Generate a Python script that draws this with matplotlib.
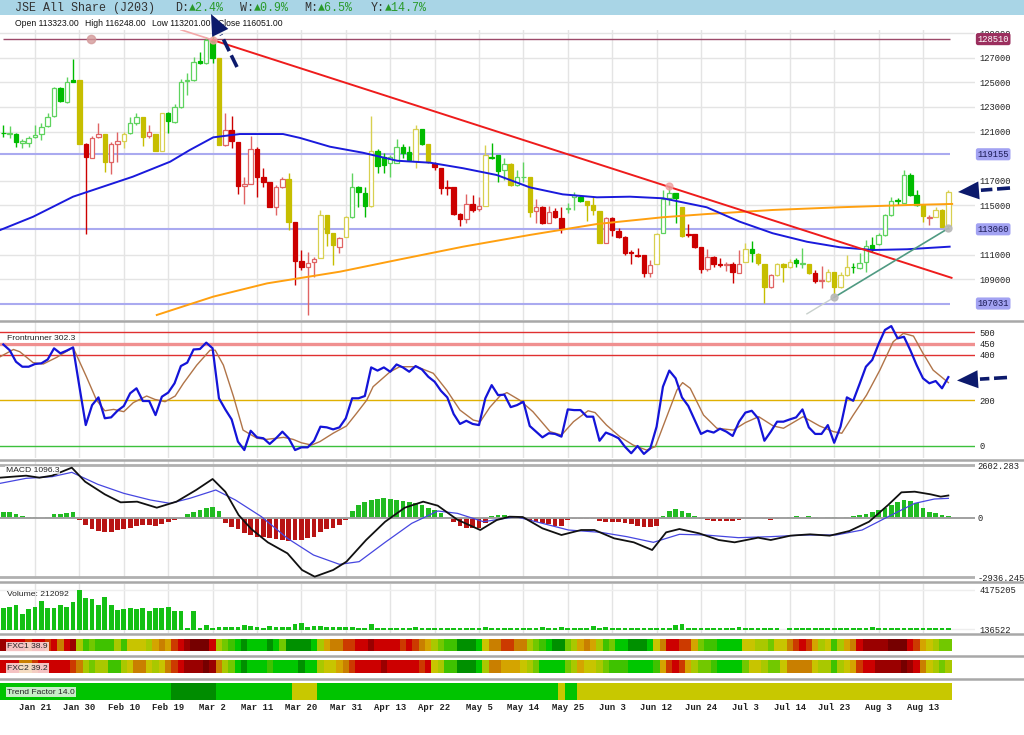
import matplotlib
matplotlib.use("Agg")
import matplotlib.pyplot as plt
from matplotlib.patches import Polygon, Rectangle
import numpy as np

W, H = 1024, 735
MONO = ['Liberation Mono', 'DejaVu Sans Mono']
SANS = ['Liberation Sans', 'DejaVu Sans']

# ---------------- data ----------------
tick_idx = [5, 12, 19, 26, 33, 40, 47, 54, 61, 68, 75, 82, 89, 96, 103, 110, 117, 124, 131, 138, 145]
tick_labels = ['Jan 21', 'Jan 30', 'Feb 10', 'Feb 19', 'Mar 2', 'Mar 11', 'Mar 20', 'Mar 31',
               'Apr 13', 'Apr 22', 'May 5', 'May 14', 'May 25', 'Jun 3', 'Jun 12', 'Jun 24',
               'Jul 3', 'Jul 14', 'Jul 23', 'Aug 3', 'Aug 13']

candle_open = [
    120900, 120800, 120800, 120100, 120100, 120530, 120775, 121480, 122290, 124510,
    123430, 125190, 125190, 119990, 118880, 120530, 120775, 118500, 119990, 120230,
    120860, 121720, 122160, 120640, 120800, 119390, 122480, 121800, 122970, 125110,
    125190, 126730, 126600, 128440, 126950, 119910, 121100, 120130, 116600, 116740,
    119560, 117340, 116880, 114900, 116520, 117150, 113630, 110480, 109970, 110430,
    110750, 114220, 112786, 111650, 112460, 114030, 116520, 116040, 114950, 119450,
    118960, 118470, 118470, 119720, 119310, 118640, 121180, 119990, 118360, 118010,
    116470, 116470, 114300, 113870, 115120, 114680, 114950, 118960, 119100, 117880,
    118360, 116660, 117280, 117280, 114570, 114840, 113600, 114550, 113950, 114700,
    115710, 115710, 115390, 115040, 114550, 111970, 113950, 112950, 112410, 111240,
    110970, 110972, 109540, 110240, 112730, 115575, 115980, 114845, 112680, 112680,
    111595, 109808, 110836, 110241, 110160, 110241, 109537, 110430, 111432, 111054,
    110241, 108345, 109347, 110241, 109970, 110566, 110241, 110241, 109537, 108887,
    108887, 109618, 108345, 109347, 110024, 109889, 110430, 111784, 111865, 112597,
    114222, 115470, 115223, 117471, 115846, 115034, 114000, 114086, 114628, 113323]
candle_high = [
    121530, 121480, 120900, 120420, 120640, 121530, 121670, 122480, 124650, 124650,
    125460, 126870, 125190, 120040, 120640, 121720, 120775, 120180, 120990, 120990,
    122160, 122530, 122160, 121530, 120800, 122480, 122620, 123240, 125240, 125730,
    127080, 127490, 128710, 128760, 126950, 122480, 122260, 120130, 117340, 120640,
    119720, 118010, 116880, 116660, 117340, 117660, 113680, 111380, 111240, 110840,
    114630, 114220, 112786, 112460, 114140, 117610, 116600, 116470, 122260, 119560,
    119230, 119100, 120370, 119990, 119830, 121530, 121230, 119990, 118550, 118010,
    117060, 116470, 114360, 115930, 115850, 115710, 119910, 120040, 119100, 118830,
    118470, 117880, 118550, 117280, 115490, 114950, 114950, 114760, 114900, 115200,
    116120, 115850, 115390, 115710, 114550, 114090, 114030, 113140, 112520, 111380,
    111510, 110972, 110570, 112790, 116250, 116578, 115980, 114845, 113490, 112680,
    111595, 111432, 110890, 110701, 110430, 110430, 111378, 111920, 112136, 111100,
    110241, 109428, 110295, 110300, 110620, 110700, 111513, 110241, 109754, 110078,
    109808, 109618, 109618, 110972, 110350, 111108, 112190, 112461, 112732, 114303,
    115711, 115575, 117877, 117661, 116252, 115034, 114222, 114845, 114682, 116248]
candle_low = [
    120530, 120450, 119720, 119640, 119770, 120450, 120310, 121340, 122210, 123430,
    123350, 125000, 119990, 112680, 118830, 120500, 117740, 117550, 118550, 119640,
    120800, 121530, 119830, 120450, 119390, 119390, 120860, 121720, 122890, 123970,
    125130, 126490, 126490, 126540, 119910, 119830, 119640, 115930, 115120, 116740,
    115660, 116530, 114900, 114220, 116390, 113000, 108530, 109750, 106100, 109210,
    110700, 111700, 110160, 111110, 112460, 113950, 114900, 114030, 114900, 117660,
    117610, 117280, 118470, 118830, 118690, 118010, 119910, 118420, 117880, 115930,
    115850, 114220, 113330, 113600, 114490, 114570, 114950, 118740, 116930, 117060,
    116580, 116600, 116930, 114090, 113600, 113490, 113550, 113950, 112730, 114400,
    114630, 115300, 113760, 114220, 111970, 111920, 112520, 112330, 110970, 110240,
    110840, 109210, 109160, 110240, 112730, 115034, 113600, 112407, 112407, 111513,
    109483, 109700, 110024, 109970, 109700, 108670, 109500, 110400, 110430, 110160,
    107100, 108264, 109266, 108805, 109889, 110024, 109889, 109429, 108724, 108264,
    108800, 107533, 108300, 109266, 109483, 109850, 109618, 111243, 111800, 112550,
    114140, 115034, 115180, 115765, 114953, 113680, 113409, 114050, 113220, 113201]
candle_close = [
    120850, 120880, 120180, 120230, 120500, 120720, 121400, 122210, 124510, 123480,
    125000, 125050, 119990, 118960, 120450, 120775, 118530, 119990, 120200, 120800,
    121720, 122160, 120530, 120940, 119390, 122480, 121880, 122970, 125000, 125190,
    126680, 126540, 128440, 127000, 119910, 121130, 120200, 116600, 116740, 119560,
    117340, 116880, 114900, 116470, 117150, 113680, 110480, 109970, 110290, 110670,
    114220, 112790, 111785, 112330, 114030, 116520, 116120, 114950, 119450, 118200,
    118280, 118960, 119720, 119290, 118690, 121180, 119990, 118550, 118090, 116390,
    116390, 114300, 113870, 115120, 114630, 114950, 119100, 118830, 117820, 118360,
    116660, 117280, 117340, 114490, 114840, 113600, 114490, 114030, 113140, 114800,
    115850, 115390, 115040, 114630, 111970, 113950, 113000, 112410, 111160, 111110,
    110890, 109540, 110160, 112680, 115490, 115980, 115575, 112515, 112570, 111595,
    109808, 110782, 110241, 110160, 110241, 109618, 110241, 111432, 111162, 110295,
    108345, 109347, 110241, 109970, 110430, 110349, 110295, 109483, 108887, 108940,
    109618, 108400, 109347, 110024, 109970, 110349, 111703, 111432, 112597, 114222,
    115386, 115386, 117471, 115846, 115034, 114140, 114086, 114628, 113274, 116051]
# candle colour class per bar: g = green, y = yellow, r = red
candle_tone = "".join([
    "gggggggggg", "ggyrrryrry", "ggyryygggg", "ggggyrrrrr", "rrrrryrrrr",
    "yyyrygggyg", "gggggygyrr", "rrrrrryggg", "yggyrrrrrg", "ggyyyrrrrr",
    "rrrygggyrr", "rrrrrrrygy", "yryyyggyrr", "yyyygggggg", "gggggyryyy"])

# moving averages and trend lines (bar index, price)
ma_fast_idx = [-0.5, 4.7, 11, 20.4, 26.3, 29.4, 33.1, 37.3, 44.1, 46.8, 51.5, 56.7, 62.1, 67.3, 72.5,
               77.8, 83.0, 88.2, 93.6, 98.8, 104.0, 110.9, 116.1, 121.3, 126.7, 131.9, 137.1, 142.5, 149.2]
ma_fast_val = [113000, 114080, 115710, 117330, 118550, 119500, 120530, 120800, 120800, 120480, 119770,
               119280, 118630, 118470, 118020, 117470, 116470, 115900, 115660, 115710, 115580, 114850,
               113680, 112740, 112050, 111600, 111380, 111440, 111650]
ma_slow_idx = [24.2, 33.1, 41.6, 53.1, 62.1, 72.5, 83.0, 93.6, 104.0, 110.9, 121.3, 131.9, 142.5, 149.6]
ma_slow_val = [106100, 107590, 108670, 109620, 110570, 111650, 112600, 113490, 114040, 114300, 114630,
               114850, 115030, 115120]
down_line_idx = [33, 149.5]
down_line_val = [128440, 109120]
down_ext_idx = [28, 33]
down_ext_val = [129270, 128440]
up_line_idx = [131, 149]
up_line_val = [107533, 113139]
up_ext_idx = [126.7, 131]
up_ext_val = [106194, 107533]
level_top = 128510
levels_mid = [119155, 113060, 107031]
price_ticks = [109000, 111000, 115000, 117000, 121000, 123000, 125000, 127000, 129000]

# Frontrunner oscillator
osc = [446, 421, 370, 348, 348, 360, 363, 380, 429, 407,
       419, 433, 260, 91, 179, 213, 121, 125, 154, 175,
       231, 253, 197, 197, 135, 216, 234, 275, 351, 366,
       424, 426, 454, 429, 209, 160, 116, 18, -19, 66,
       37, 33, 8, 33, 62, 33, -19, -7, -7, 22,
       84, 81, 72, 81, 121, 209, 209, 219, 345, 331,
       345, 326, 358, 345, 326, 351, 336, 304, 282, 242,
       213, 140, 96, 110, 96, 91, 209, 267, 223, 225,
       170, 179, 194, 87, 62, 37, 55, 52, 40, 160,
       157, 157, 128, 128, 22, 58, 47, 33, -4, -33,
       -1, -36, -12, 84, 260, 331, 297, 213, 175, 113,
       52, 66, 58, 75, 62, 43, 106, 146, 154, 121,
       22, 62, 106, 106, 116, 125, 160, 81, 52, 52,
       91, 13, 84, 213, 198, 272, 348, 378, 448, 510,
       527, 473, 480, 421, 355, 297, 275, 285, 253, 302.3]
osc_sig_idx = [-0.5, 1.6, 2.6, 4.7, 6.3, 8.4, 11, 13.1, 14.7, 16, 17.4, 19, 20.5, 22.6, 23.9, 25.5,
               27.1, 28.4, 30.5, 32.6, 33.4, 34.7, 36.3, 37.8, 40, 41.5, 44.2, 45.7, 47, 48.6, 49.9,
               52, 54.1, 55.7, 57.3, 58.3, 61, 62.5, 65.2, 67.8, 69.9, 72, 74.1, 75.2, 76.7, 78.3,
               79.4, 81.4, 83.5, 86.2, 88, 89.9, 92.2, 93.3, 95.1, 97.2, 99.3, 101.4, 102.8, 104.6,
               106.2, 107.1, 108.3, 110.4, 112.5, 115.1, 117, 119.1, 121.4, 123, 126.1, 128.7,
               130.9, 132.2, 134, 136.1, 138.2, 140.3, 141.9, 143.5, 145, 146.6, 149]
osc_sig_val = [392, 424, 414, 366, 360, 389, 433, 304, 201, 154, 160, 150, 190, 219, 204, 194,
               219, 275, 355, 421, 421, 355, 216, 69, 33, 28, 37, 28, 13, 3, 18,
               55, 87, 143, 201, 260, 326, 348, 348, 319, 245, 157, 113, 106, 169, 219,
               234, 201, 150, 62, 47, 106, 154, 146, 91, 40, 3, -19, -4, 128,
               245, 278, 253, 135, 77, 69, 102, 128, 87, 77, 128, 87,
               62, 55, 135, 223, 333, 458, 495, 483, 407, 333, 278]
osc_levels = [500, 450, 400, 200, 0]

# MACD
macd_idx = [-0.5, 1.5, 3.6, 5.7, 7.7, 10.8, 12.9, 16.0, 18.5, 21.1, 24.2, 27.3, 30.4, 33.0, 35.0,
            37.1, 39.1, 41.7, 44.8, 47.1, 49.1, 52.0, 54.1, 57.2, 60.2, 63.3, 66.2, 68.5, 71.6,
            75.2, 77.8, 79.8, 81.9, 85.0, 88.0, 91.1, 93.2, 96.3, 99.4, 102.3, 104.5, 106.6,
            109.7, 112.8, 115.3, 119.0, 121.0, 124.1, 127.2, 130.3, 133.4, 136.5, 139.5, 141.6,
            143.7, 146.2, 147.8, 149.0]
macd_val = [1977, 2026, 2076, 1977, 2076, 2471, 1779, 1154, 759, 792, 495, 792, 1368, 1911, 1285,
            133, -558, -1216, -1760, -2583, -2912, -2583, -2171, -1101, -198, 495, 792, 594, -102,
            -608, -115, 50, 33, -525, -854, -608, -608, -1019, -1216, -1595, -723, -558,
            -772, -1101, -1216, -986, -1101, -887, -821, -887, -657, -198, 627, 1253,
            1285, 1154, 1039, 1096.3]
macd_sig_idx = [-0.5, 3.6, 7.7, 10.8, 14.9, 19.0, 23.2, 26.3, 29.4, 33.5, 36.6, 40.7, 44.8, 48.9,
                53.0, 56.1, 60.2, 64.4, 68.5, 71.6, 75.7, 80.8, 85.0, 89.1, 94.2, 98.3, 102.5,
                106.6, 110.7, 115.9, 121.0, 126.2, 131.3, 135.4, 139.5, 143.7, 146.8, 149.0]
macd_sig_val = [1697, 1944, 2026, 2240, 1648, 1203, 874, 709, 956, 1368, 874, 50, -1019, -1842,
                -2303, -2171, -1216, -278, 331, 215, -198, 50, -278, -608, -723, -936, -1216,
                -821, -854, -986, -936, -854, -854, -608, 50, 709, 923, 956]
macd_hist = [298, 298, 200, 100, 30, 10, 0, 30, 165, 200,
             230, 263, -115, -360, -558, -657, -723, -690, -607, -558,
             -492, -393, -360, -360, -393, -327, -229, -114, -30, 165,
             263, 378, 494, 544, 330, -280, -444, -558, -772, -854,
             -936, -936, -1019, -1051, -1101, -1150, -1101, -1101, -1019, -936,
             -690, -558, -492, -360, -114, 330, 627, 792, 874, 923,
             956, 923, 874, 825, 792, 709, 627, 494, 378, 214,
             50, -197, -393, -492, -525, -492, -278, 100, 132, 132,
             66, 33, -66, -114, -197, -280, -327, -393, -393, -114,
             -66, -66, -66, -66, -165, -197, -197, -229, -280, -327,
             -393, -444, -444, -393, 100, 330, 428, 330, 214, 100,
             -66, -114, -165, -165, -165, -165, -114, -33, 0, 0,
             -66, -132, -66, 0, 50, 66, 50, 66, 33, 0,
             33, 33, 0, 50, 100, 132, 198, 296, 378, 494,
             625, 759, 874, 825, 709, 494, 296, 214, 132, 82]
macd_max, macd_min = 2602.283, -2936.245

# Volume, millions
volume_m = [2.32, 2.46, 2.66, 1.72, 2.16, 2.46, 3.06, 2.26, 2.32, 2.66,
            2.39, 2.89, 4.17, 3.33, 3.20, 2.66, 3.40, 2.59, 2.12, 2.19,
            2.26, 2.22, 2.32, 2.05, 2.26, 2.32, 2.39, 2.05, 2.05, 0.20,
            2.05, 0.24, 0.51, 0.24, 0.37, 0.37, 0.37, 0.30, 0.51, 0.44,
            0.37, 0.24, 0.44, 0.37, 0.37, 0.37, 0.71, 0.81, 0.40, 0.44,
            0.44, 0.30, 0.37, 0.30, 0.37, 0.37, 0.24, 0.27, 0.61, 0.24,
            0.22, 0.24, 0.22, 0.24, 0.24, 0.37, 0.24, 0.22, 0.24, 0.22,
            0.24, 0.22, 0.24, 0.24, 0.22, 0.24, 0.34, 0.24, 0.22, 0.24,
            0.22, 0.24, 0.22, 0.24, 0.24, 0.37, 0.24, 0.22, 0.37, 0.24,
            0.22, 0.24, 0.24, 0.44, 0.24, 0.37, 0.24, 0.24, 0.22, 0.24,
            0.24, 0.22, 0.24, 0.24, 0.24, 0.22, 0.51, 0.61, 0.24, 0.22,
            0.24, 0.24, 0.22, 0.24, 0.24, 0.22, 0.37, 0.24, 0.24, 0.24,
            0.22, 0.24, 0.22, 0.0, 0.24, 0.22, 0.24, 0.24, 0.22, 0.24,
            0.24, 0.22, 0.24, 0.24, 0.24, 0.22, 0.24, 0.37, 0.24, 0.24,
            0.22, 0.24, 0.24, 0.22, 0.24, 0.24, 0.22, 0.24, 0.24, 0.212092]
volume_hi, volume_lo = 4175205, 136522

# heat strips: 0 = darkest red ... 11 = dark green
fxc1_level = [1, 2, 2, 2, 3, 2, 2, 3, 2, 4,
              2, 1, 7, 9, 8, 9, 9, 9, 7, 9,
              6, 6, 6, 7, 5, 4, 5, 3, 2, 1,
              0, 0, 0, 2, 7, 8, 9, 10, 11, 10,
              10, 10, 11, 10, 8, 11, 11, 11, 11, 10,
              7, 5, 4, 4, 3, 3, 2, 2, 1, 2,
              2, 2, 2, 3, 2, 3, 4, 5, 7, 8,
              9, 9, 11, 11, 11, 10, 6, 4, 4, 3,
              3, 4, 4, 7, 8, 9, 10, 11, 11, 8,
              7, 5, 4, 5, 7, 9, 8, 10, 10, 11,
              11, 11, 10, 6, 4, 2, 2, 3, 3, 5,
              8, 9, 9, 10, 10, 10, 10, 6, 6, 7,
              7, 8, 6, 6, 4, 3, 2, 3, 5, 7,
              6, 9, 7, 5, 4, 2, 1, 1, 1, 1,
              0, 0, 0, 2, 3, 5, 6, 7, 8, 8]
fxc2_level = [2, 2, 2, 4, 4, 3, 2, 2, 2, 2,
              2, 3, 4, 7, 8, 7, 7, 9, 9, 7,
              6, 4, 4, 6, 7, 6, 4, 3, 2, 1,
              1, 1, 0, 1, 4, 7, 8, 10, 11, 10,
              10, 10, 9, 10, 10, 10, 10, 11, 10, 10,
              7, 6, 6, 5, 4, 3, 2, 2, 2, 2,
              1, 2, 2, 2, 2, 2, 3, 2, 6, 7,
              9, 9, 11, 11, 11, 10, 7, 4, 4, 5,
              5, 5, 6, 7, 8, 10, 10, 10, 10, 8,
              7, 5, 6, 6, 7, 8, 9, 9, 9, 10,
              10, 10, 10, 9, 5, 3, 2, 3, 5, 7,
              8, 8, 9, 10, 10, 10, 10, 8, 6, 6,
              7, 8, 8, 6, 4, 4, 4, 4, 6, 7,
              7, 9, 7, 6, 5, 3, 2, 2, 1, 1,
              1, 1, 0, 1, 2, 4, 6, 7, 8, 7]
trend_state = "G" * 27 + "D" * 7 + "G" * 12 + "Y" * 4 + "G" * 38 + "Y" + "GG" + "Y" * 59
fxc1_last, fxc2_last, trend_last = 38.9, 39.2, 14.0

# ---------------- styling ----------------
heat = ['#760000', '#9a0000', '#cc0000', '#cc3a00', '#c97f00', '#d4a400',
        '#c8c400', '#a9c800', '#72c800', '#3fc200', '#00c600', '#009000']
trend_col = {'G': '#00c400', 'D': '#008c00', 'Y': '#c8c800'}
fill_col = {'g': '#00bb00', 'y': '#c6be00', 'r': '#cc0000'}
line_col = {'g': '#5fd35f', 'y': '#d8d050', 'r': '#e06464'}

n = len(candle_close)
idx = np.arange(n)

fig = plt.figure(figsize=(W / 100, H / 100), dpi=100)
fig.patch.set_facecolor('white')


def panel(top, bottom):
    ax = fig.add_axes([0, 1 - bottom / H, 975 / W, (bottom - top) / H])
    ax.set_xlim(-0.52, 153.2)
    for s in ax.spines.values():
        s.set_visible(False)
    ax.set_xticks(tick_idx)
    ax.tick_params(axis='x', length=0, labelbottom=False)
    ax.grid(axis='x', color='#e4e4e4', lw=1)
    ax.set_axisbelow(True)
    ax.yaxis.tick_right()
    ax.tick_params(axis='y', length=0, pad=3, labelsize=6.3, labelcolor='#222')
    return ax


def mono_ticks(ax, values, labels):
    ax.set_yticks(values)
    ax.set_yticklabels(labels)
    for t in ax.get_yticklabels():
        t.set_family(MONO)


# ---- price panel ----
ax = panel(30, 320)
ax.set_ylim(105693, 129250)
mono_ticks(ax, price_ticks, [str(v) for v in price_ticks])
ax.grid(axis='y', color='#e4e4e4', lw=1)

ax.hlines(level_top, 0, 149.3, color='#9c4a6a', lw=1, zorder=2)
ax.hlines(levels_mid, -0.5, 149.3, color='#aaaaf0', lw=1.5, zorder=2)
ax.plot(13.9, level_top, 'o', ms=6, color='#d49a9a', alpha=0.8, zorder=3)

ax.plot(ma_slow_idx, ma_slow_val, color='#ffa010', lw=1.4, zorder=5)
ax.plot(ma_fast_idx, ma_fast_val, color='#1a1adc', lw=1.4, zorder=5)
ax.plot(down_ext_idx, down_ext_val, color='#f4a8a8', lw=1.2, zorder=5)
ax.plot(down_line_idx, down_line_val, color='#ee1c1c', lw=1.4, zorder=5)
ax.plot(up_ext_idx, up_ext_val, color='#c8d0cc', lw=1.0, zorder=5)
ax.plot(up_line_idx, up_line_val, color='#4f9a82', lw=1.2, zorder=5)
ax.plot([down_line_idx[0], 105], [down_line_val[0], candle_high[105]], 'o', ms=5,
        color='#f0a0a0', alpha=0.8, zorder=6)
ax.plot(up_line_idx, up_line_val, 'o', ms=5, color='#b8b8b8', alpha=0.9, zorder=6)

o = np.array(candle_open, float)
c = np.array(candle_close, float)
up = c >= o
edge = [line_col[k] if u else fill_col[k] for k, u in zip(candle_tone, up)]
face = ['white' if u else fill_col[k] for k, u in zip(candle_tone, up)]
ax.vlines(idx, candle_low, candle_high, colors=edge, lw=1, zorder=4)
ax.bar(idx, np.maximum(np.abs(c - o), 60), bottom=np.minimum(o, c), width=0.7,
       color=face, edgecolor=edge, lw=0.9, zorder=4)

box_kw = dict(boxstyle='round,pad=0.18,rounding_size=0.25', lw=0)
ax.text(1.0025, level_top, str(level_top), transform=ax.get_yaxis_transform(), ha='left',
        va='center', fontsize=6.3, family=MONO, color='white', clip_on=False, zorder=10,
        bbox=dict(fc='#9b2f5e', **box_kw))
for v in levels_mid:
    ax.text(1.0025, v, str(v), transform=ax.get_yaxis_transform(), ha='left', va='center',
            fontsize=6.3, family=MONO, color='#1a1a55', clip_on=False, zorder=10,
            bbox=dict(fc='#a2a2f2', **box_kw))

# ---- Frontrunner oscillator ----
ax2 = panel(322, 458)
ax2.set_ylim(-54, 545)
mono_ticks(ax2, osc_levels, [str(v) for v in osc_levels])
ax2.axhline(500, color='#e03030', lw=1)
ax2.axhline(450, color='#f09090', lw=2.4)
ax2.axhline(400, color='#e03030', lw=1)
ax2.axhline(200, color='#e0b000', lw=1)
ax2.axhline(0, color='#3cc03c', lw=1)
ax2.plot(osc_sig_idx, osc_sig_val, color='#b07448', lw=1.0, zorder=4)
ax2.plot(idx, osc, color='#1414d8', lw=1.6, zorder=5)

# ---- MACD ----
ax3 = panel(461, 579)
ax3.set_ylim(-3027, 2800)
mono_ticks(ax3, [macd_min, 0, macd_max], ['-2936.245', '0', '2602.283'])
ax3.tick_params(axis='y', pad=1.5)
ax3.axhline(macd_max, color='#b0b0b0', lw=2)
ax3.axhline(macd_min, color='#b0b0b0', lw=2)
hist = np.array(macd_hist, float)
ax3.bar(idx, hist, width=0.75, color=np.where(hist >= 0, '#22bb22', '#b81414'), zorder=3)
ax3.axhline(0, color='#a0a0a0', lw=1.4, zorder=3)
ax3.plot(macd_sig_idx, macd_sig_val, color='#4646e0', lw=0.9, zorder=4)
ax3.plot(macd_idx, macd_val, color='#111111', lw=1.3, zorder=5)

# ---- Volume ----
ax4 = panel(584, 633)
ax4.set_ylim(-267346, 4781007)
mono_ticks(ax4, [volume_lo, volume_hi], [str(volume_lo), str(volume_hi)])
ax4.grid(axis='y', color='#eeeeee', lw=1)
ax4.bar(idx, np.array(volume_m) * 1e6, width=0.75, color='#14c014', zorder=3)

# ---- heat strips ----
for top, bottom, levels in [(639, 651, fxc1_level), (660, 673, fxc2_level)]:
    axs = panel(top, bottom)
    axs.set_ylim(0, 1)
    axs.set_yticks([])
    axs.bar(idx, 1, width=1.0, color=[heat[k] for k in levels], lw=0)

axt = panel(683, 700)
axt.set_ylim(0, 1)
axt.set_yticks([])
axt.bar(idx, 1, width=1.0, color=[trend_col[k] for k in trend_state], lw=0)
axt.tick_params(axis='x', labelbottom=True, pad=2.5)
axt.set_xticklabels(tick_labels)
for t in axt.get_xticklabels():
    t.set_family(MONO)
    t.set_fontsize(6.4)
    t.set_color('#222')
    t.set_fontweight('bold')

# ---------------- overlay: header, separators, captions, arrows ----------------
ov = fig.add_axes([0, 0, 1, 1])
ov.set_xlim(0, W)
ov.set_ylim(H, 0)
ov.axis('off')
ov.patch.set_alpha(0)

ov.add_patch(Rectangle((0, 0), W, 14.5, color='#a9d5e6', lw=0))
ov.text(15, 7.5, 'JSE All Share (J203)', family=MONO, fontsize=8.4, color='#333', va='center')
for x, lab, val in [(175, 'D:', '\u25b22.4%'), (240, 'W:', '\u25b20.9%'),
                    (304, 'M:', '\u25b26.5%'), (371, 'Y:', '\u25b214.7%')]:
    ov.text(x, 7.5, lab, family=MONO, fontsize=8.4, color='#333', va='center')
    ov.text(x + 13.5, 7.5, val, family=MONO, fontsize=8.4, color='#2a9a2a', va='center')

for x, lab, v in [(15, 'Open', candle_open[-1]), (85, 'High', candle_high[-1]),
                  (152, 'Low', candle_low[-1]), (218, 'Close', candle_close[-1])]:
    ov.text(x, 23.5, f'{lab} {v:.2f}', family=SANS, fontsize=6.2, color='#111', va='center')

for y in [321, 459.5, 582, 634, 656, 678.5]:
    ov.plot([0, W], [y, y], color='#a8a8a8', lw=1.8)

cap = dict(family=SANS, fontsize=6.1, color='#222', va='center', ha='left')
ov.text(7, 338.5, f'Frontrunner {osc[-1]:.1f}', **cap,
        bbox=dict(fc='white', ec='none', alpha=0.75, pad=0.8))
ov.text(6, 470, f'MACD {macd_val[-1]:.1f}', **cap,
        bbox=dict(fc='white', ec='none', alpha=0.75, pad=0.6))
ov.text(7, 594, f'Volume: {int(round(volume_m[-1] * 1e6))}', **cap)
ov.text(7, 647, f'FXC1 {fxc1_last}', **cap,
        bbox=dict(fc='#fff4f4', ec='none', alpha=0.8, pad=0.8))
ov.text(7, 668, f'FXC2 {fxc2_last}', **cap,
        bbox=dict(fc='#fff4f4', ec='none', alpha=0.8, pad=0.8))
ov.text(7, 692, f'Trend Factor {trend_last}', **cap,
        bbox=dict(fc='#dff2df', ec='none', alpha=0.9, pad=1.0))


def arrow(tip, tail, head_len=21, head_w=18):
    tip = np.array(tip, float)
    tail = np.array(tail, float)
    u = (tip - tail) / np.hypot(*(tip - tail))
    p = np.array([-u[1], u[0]])
    base = tip - u * head_len
    ov.add_patch(Polygon([tip, base + p * head_w / 2, base - p * head_w / 2],
                         closed=True, color='#0c1a6c', lw=0, zorder=20))
    ov.plot([tail[0], base[0] - u[0] * 2], [tail[1], base[1] - u[1] * 2], color='#0c1a6c',
            lw=2.6, linestyle=(0, (3.6, 1.3)), solid_capstyle='butt', zorder=20)


arrow((211, 14), (237, 67))
arrow((958, 192), (1010, 188))
arrow((957, 380.5), (1007, 377.5))

fig.savefig('out.png', dpi=100, facecolor='white')
